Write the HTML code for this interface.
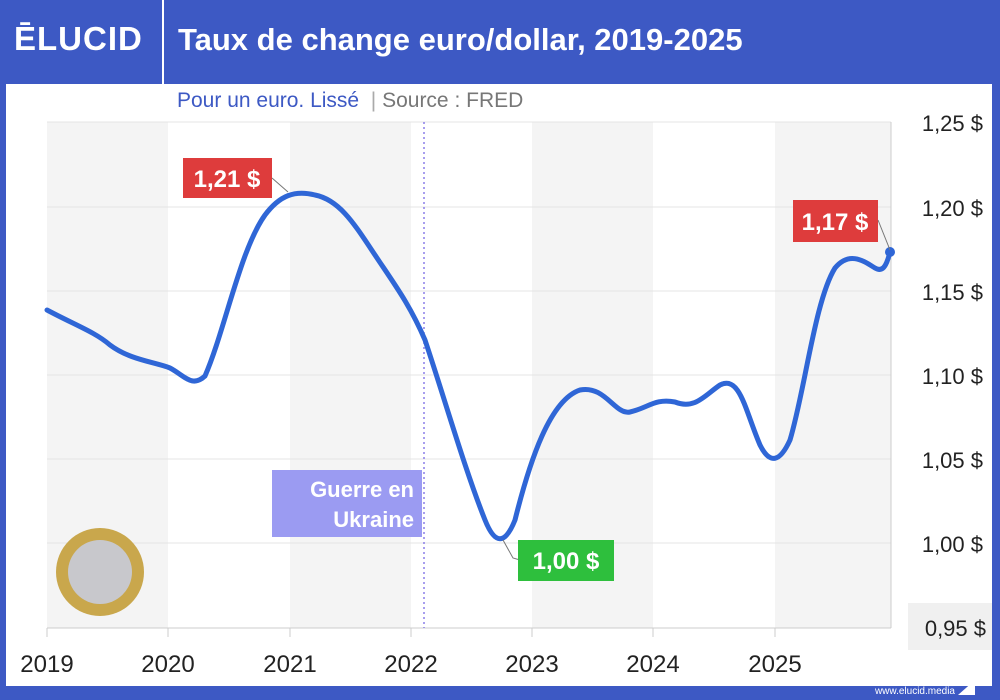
<!DOCTYPE html><html><head><meta charset="utf-8"><style>
body{margin:0;width:1000px;height:700px;background:#3d59c4;position:relative;overflow:hidden;font-family:"Liberation Sans",sans-serif}
.p{position:absolute}
</style></head><body>
<div class="p" style="left:6px;top:84px;width:986px;height:602px;background:#fff"></div>
<div class="p" style="left:162px;top:0;width:2px;height:84px;background:#fff"></div>
<div class="p" style="left:14px;top:20px;color:#fff;font-weight:bold;font-size:33px;letter-spacing:1px">ĒLUCID</div>
<div class="p" style="left:178px;top:22px;color:#fff;font-weight:bold;font-size:31px">Taux de change euro/dollar, 2019-2025</div>
<div class="p" style="left:177px;top:89px;font-size:21px;color:#3d59c4">Pour un euro. Lissé <span style="color:#aaa">&nbsp;|&nbsp;</span><span style="color:#777">Source : FRED</span></div>
<svg class="p" style="left:0;top:0" width="1000" height="700">
<g fill="#f4f4f4"><rect x="47" y="122" width="121" height="506"/><rect x="290" y="122" width="121" height="506"/><rect x="532" y="122" width="121" height="506"/><rect x="775" y="122" width="116" height="506"/></g>
<g stroke="#e4e4e4" stroke-width="1"><line x1="47" x2="891" y1="122" y2="122"/><line x1="47" x2="891" y1="207" y2="207"/><line x1="47" x2="891" y1="291" y2="291"/><line x1="47" x2="891" y1="375" y2="375"/><line x1="47" x2="891" y1="459" y2="459"/><line x1="47" x2="891" y1="543" y2="543"/></g>
<line x1="47" x2="891" y1="628" y2="628" stroke="#ccc"/>
<g stroke="#ccc"><line x1="47" x2="47" y1="628" y2="637"/><line x1="168" x2="168" y1="628" y2="637"/><line x1="290" x2="290" y1="628" y2="637"/><line x1="411" x2="411" y1="628" y2="637"/><line x1="532" x2="532" y1="628" y2="637"/><line x1="653" x2="653" y1="628" y2="637"/><line x1="775" x2="775" y1="628" y2="637"/><line x1="891" x2="891" y1="122" y2="628"/></g>
<line x1="424" x2="424" y1="122" y2="628" stroke="#8a7fe8" stroke-width="1.5" stroke-dasharray="2,3"/>
<rect x="272" y="470" width="150" height="67" fill="#9b9bf2"/>
<path d="M47,310 C75,325 95,332 110,345 C130,360 155,362 170,368 C185,376 192,388 205,376 C225,330 240,250 265,215 C280,195 295,190 315,195 C340,200 355,225 375,255 C395,285 410,305 425,340 C445,400 465,470 485,520 C495,545 505,545 515,520 C530,460 550,400 580,390 C605,385 615,415 630,412 C648,408 655,398 675,402 C695,410 705,395 720,385 C740,375 745,410 760,445 C770,465 780,462 790,440 C805,390 815,300 835,268 C850,250 865,262 875,268 C882,272 886,268 890,252" fill="none" stroke="#2f66d6" stroke-width="5" stroke-linecap="round"/>
<circle cx="890" cy="252" r="5" fill="#2f66d6"/>
<g stroke="#777" fill="none"><path d="M272,178 L288,192"/><path d="M878,220 L890,250"/><path d="M503,540 L513,558 L520,560"/></g>
<rect x="183" y="158" width="89" height="40" fill="#de3c3c"/>
<rect x="793" y="200" width="85" height="42" fill="#de3c3c"/>
<rect x="518" y="540" width="96" height="41" fill="#2ebf3d"/>
<rect x="908" y="603" width="84" height="47" fill="#f0f0f0"/>
<circle cx="100" cy="572" r="44" fill="#c9a74c"/><circle cx="100" cy="572" r="32" fill="#c8c8cc"/>
<g font-family="Liberation Sans" font-size="24" fill="#fff" font-weight="bold">
<text x="227" y="187" text-anchor="middle">1,21 $</text><text x="835" y="230" text-anchor="middle">1,17 $</text><text x="566" y="569" text-anchor="middle">1,00 $</text>
<text x="414" y="497" text-anchor="end" font-size="22">Guerre en</text><text x="414" y="527" text-anchor="end" font-size="22">Ukraine</text></g>
<g font-family="Liberation Sans" font-size="22" fill="#222" text-anchor="end">
<text x="983" y="131">1,25 $</text><text x="983" y="216">1,20 $</text><text x="983" y="300">1,15 $</text><text x="983" y="384">1,10 $</text><text x="983" y="468">1,05 $</text><text x="983" y="552">1,00 $</text><text x="986" y="636">0,95 $</text></g>
<g font-family="Liberation Sans" font-size="24" fill="#222" text-anchor="middle">
<text x="47" y="672">2019</text><text x="168" y="672">2020</text><text x="290" y="672">2021</text><text x="411" y="672">2022</text><text x="532" y="672">2023</text><text x="653" y="672">2024</text><text x="775" y="672">2025</text></g>
<text x="955" y="694" font-family="Liberation Sans" font-size="10" fill="#fff" text-anchor="end">www.elucid.media</text>
<path d="M958,695 L975,680 L975,695 Z" fill="#fff"/>
</svg>
</body></html>
